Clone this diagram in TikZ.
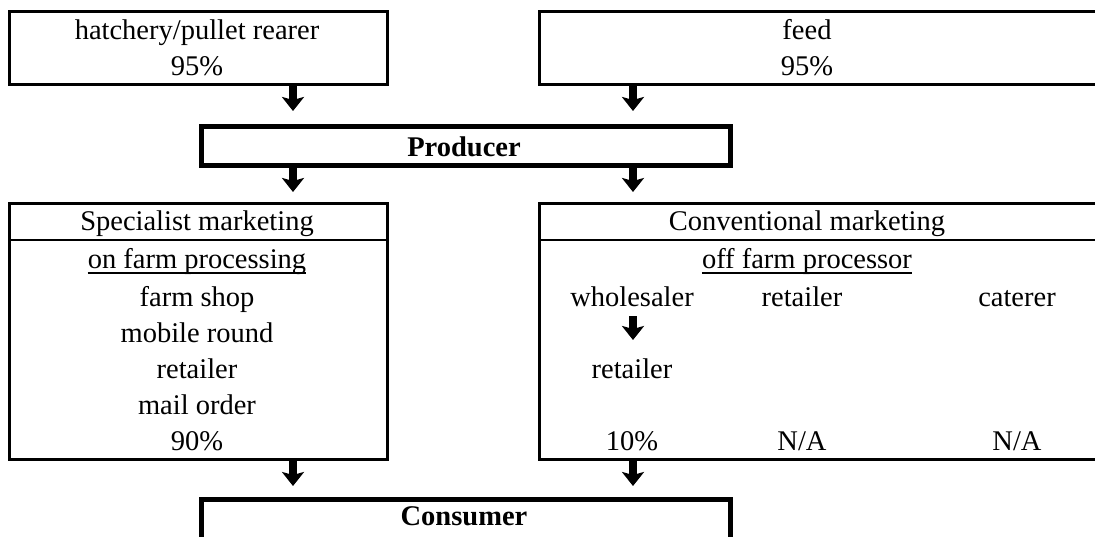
\documentclass[tikz,border=0pt]{standalone}
\usepackage{fontspec}
\setmainfont{Liberation Serif}
\usetikzlibrary{arrows.meta}
\begin{document}
\begin{tikzpicture}[x=1pt,y=-1pt,
  box/.style={draw,line width=3pt,inner sep=0pt,anchor=north west},
  thickbox/.style={draw,line width=4.5pt,inner sep=0pt,anchor=north west},
  txt/.style={inner sep=0pt,anchor=base,font=\fontsize{28.5}{34}\selectfont},
  btxt/.style={inner sep=0pt,anchor=base,font=\fontsize{28.5}{34}\selectfont\bfseries},
  blockarrow/.style={line width=8pt,-{Stealth[width=22pt,length=14pt,inset=3pt]}},
  rule/.style={line width=2.5pt},
  uline/.style={line width=1.8pt}]
\useasboundingbox (0,0) rectangle (1095,536);
\clip (0,0) rectangle (1095,536);
% boxes
\node[box,minimum width=378pt,minimum height=73pt] (hatch) at (8,10) {};
\node[box,minimum width=580pt,minimum height=73pt] (feed) at (538,10) {};
\node[thickbox,minimum width=529pt,minimum height=39pt] (prod) at (199,124) {};
\node[box,minimum width=378pt,minimum height=256pt] (spec) at (8,202) {};
\node[box,minimum width=580pt,minimum height=256pt] (conv) at (538,202) {};
\node[thickbox,minimum width=529pt,minimum height=40pt] (cons) at (199,497) {};
% header rules
\coordinate (sl) at (8,240); \coordinate (sr) at (386,240);
\coordinate (cl) at (538,240); \coordinate (cr) at (1118,240);
\draw[rule] (sl) -- (sr);
\draw[rule] (cl) -- (cr);
% texts
\node[txt] (t1) at (197,39) {hatchery/pullet rearer};
\node[txt] (t2) at (197,75) {95\%};
\node[txt] (t3) at (807,39) {feed};
\node[txt] (t4) at (807,75) {95\%};
\node[btxt] (tp) at (464,156) {Producer};
\node[txt] (s0) at (197,230) {Specialist marketing};
\node[txt] (s1) at (197,268) {on farm processing};
\node[txt] (s2) at (197,306) {farm shop};
\node[txt] (s3) at (197,342) {mobile round};
\node[txt] (s4) at (197,378) {retailer};
\node[txt] (s5) at (197,414) {mail order};
\node[txt] (s6) at (197,450) {90\%};
\node[txt] (c0) at (807,230) {Conventional marketing};
\node[txt] (c1) at (807,268) {off farm processor};
\node[txt] (cw) at (632,306) {wholesaler};
\node[txt] (cr1) at (802,306) {retailer};
\node[txt] (cc) at (1017,306) {caterer};
\node[txt] (cr2) at (632,378) {retailer};
\node[txt] (p1) at (632,450) {10\%};
\node[txt] (p2) at (802,450) {N/A};
\node[txt] (p3) at (1017,450) {N/A};
\node[btxt] (tc) at (464,525) {Consumer};
% underlines
\draw[uline] ([yshift=-5pt]s1.base west) -- ([yshift=-5pt]s1.base east);
\draw[uline] ([yshift=-5pt]c1.base west) -- ([yshift=-5pt]c1.base east);
% arrows
\coordinate (a1s) at (293,85);  \coordinate (a1e) at (293,111);
\coordinate (a2s) at (633,85);  \coordinate (a2e) at (633,111);
\coordinate (a3s) at (293,166); \coordinate (a3e) at (293,192);
\coordinate (a4s) at (633,166); \coordinate (a4e) at (633,192);
\coordinate (a5s) at (633,316); \coordinate (a5e) at (633,340);
\coordinate (a6s) at (293,460); \coordinate (a6e) at (293,486);
\coordinate (a7s) at (633,460); \coordinate (a7e) at (633,486);
\foreach \i in {1,...,7} {\draw[blockarrow] (a\i s) -- (a\i e);}
\end{tikzpicture}
\end{document}
